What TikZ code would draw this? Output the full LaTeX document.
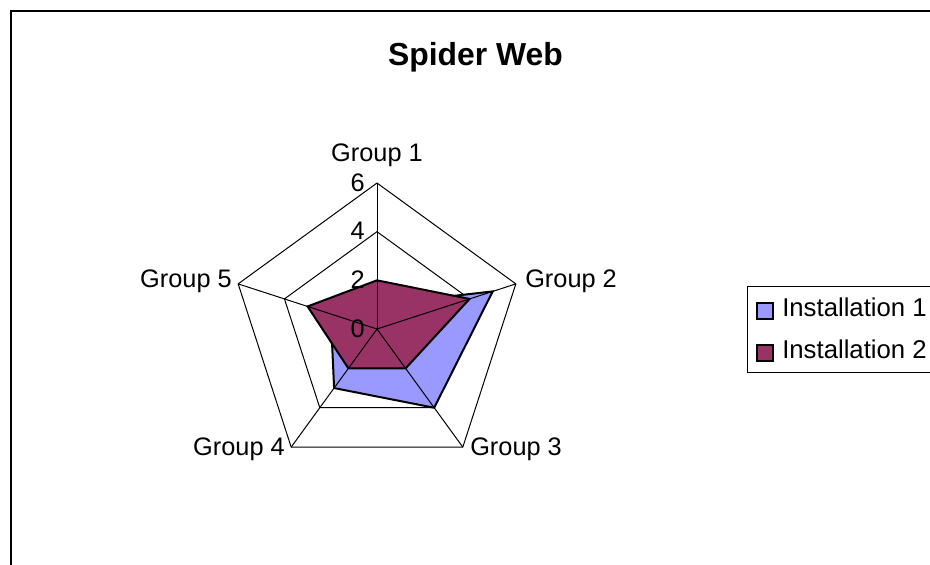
\documentclass[tikz,border=0pt]{standalone}
\usepackage{fontspec}
\setmainfont{Liberation Sans}
\definecolor{instone}{HTML}{9999FF}
\definecolor{insttwo}{HTML}{993366}
\newcommand{\rstep}{24.33}
\newcommand{\webring}[1]
{\draw [thinline] (90:{#1*\rstep}) -- (18:{#1*\rstep}) -- (-54:{#1*\rstep}) -- (-126:{#1*\rstep}) -- (162:{#1*\rstep}) -- cycle;
}
\newcommand{\webdata}[6]
{\filldraw [fill=#1,line width=1.5pt,line join=miter] (90:{#2*\rstep}) -- (18:{#3*\rstep}) -- (-54:{#4*\rstep}) -- (-126:{#5*\rstep}) -- (162:{#6*\rstep}) -- cycle;
}
\tikzset{
	thinline/.style={line width=0.75pt},
	lbl/.style={font=\fontsize{19}{21}\selectfont,inner sep=0pt},
	keylbl/.style={font=\fontsize{19.3}{21}\selectfont,inner sep=0pt},
	keybox/.style={line width=1.1pt}
}

\begin{document}
\begin{tikzpicture}[x=0.75pt,y=0.75pt]
\useasboundingbox (-377,-235) rectangle (553,329);
\clip (-377,-235) rectangle (553,329);

\draw [line width=1.5pt] (-366,318) rectangle (600,-300);%chart frame
\node [anchor=base,inner sep=0pt,font=\fontsize{23.9}{26}\selectfont\bfseries] (title) at (98.5,263) {Spider Web};

\begin{scope}
	\webring{2};
	\webring{4};
	\webring{6};
	\webdata{instone}{1}{5}{4}{3}{2};%installation 1
	\webdata{insttwo}{2}{4}{2}{2}{3};%installation 2
	\foreach \a in {90,18,-54,-126,162}
		{\draw [thinline] (0,0) -- (\a:{6*\rstep});
			};
	\foreach \v in {0,2,4,6}
		{\node [lbl,anchor=base east] (tick\v) at (-12,{\v*\rstep-8}) {\v};
			};
	\node [lbl,anchor=base] (g1) at (0,167) {Group 1};
	\node [lbl,anchor=base west] (g2) at (148,42) {Group 2};
	\node [lbl,anchor=base west] (g3) at (93,-126) {Group 3};
	\node [lbl,anchor=base east] (g4) at (-92,-126) {Group 4};
	\node [lbl,anchor=base east] (g5) at (-145,42) {Group 5};
\end{scope}

\begin{scope}
	\draw [thinline] (370.5,43) rectangle (600,-43);%legend
	\filldraw [keybox,fill=instone] (380,26) rectangle (396,10);
	\filldraw [keybox,fill=insttwo] (380,-16) rectangle (396,-32);
	\node [keylbl,anchor=base west] (leg1) at (405,13) {Installation 1};
	\node [keylbl,anchor=base west] (leg2) at (405,-29) {Installation 2};
\end{scope}
\end{tikzpicture}
\end{document}
